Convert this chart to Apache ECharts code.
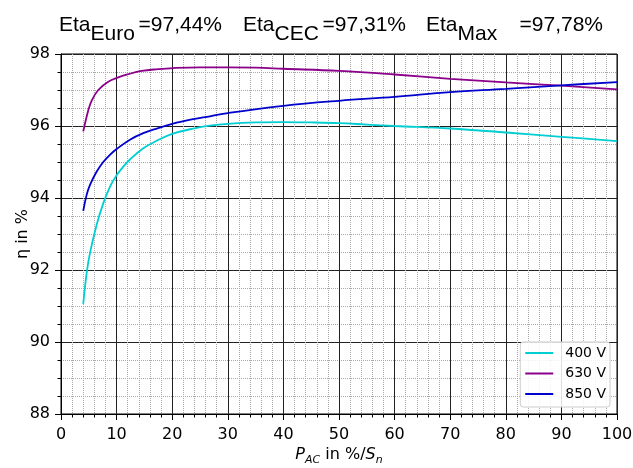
<!DOCTYPE html>
<html>
<head>
<meta charset="utf-8">
<script src="https://cdn.jsdelivr.net/npm/echarts@6/dist/echarts.min.js"></script>
<style>
html,body{margin:0;padding:0;background:#fff;}
#chart{width:633px;height:468px;}
</style>
</head>
<body>
<div id="chart"></div>
<script>
// Series data: [P_AC in %, efficiency in %]
const x400 = [4, 4.6, 5.2, 6.4, 7.6, 8.8, 10, 11.2, 12.4, 14.8, 17.2, 20, 23.8, 26.8, 30, 35, 40, 45, 50, 55, 60, 70, 80, 90, 100];
const y400 = [91.06, 91.9, 92.46, 93.25, 93.85, 94.31, 94.63, 94.87, 95.07, 95.38, 95.59, 95.78, 95.93, 96.01, 96.06, 96.10, 96.11, 96.10, 96.08, 96.04, 96.00, 95.93, 95.82, 95.70, 95.58];

const x630 = [4, 4.9, 5.5, 6.7, 8.5, 10.3, 12.1, 14.5, 17.5, 20.2, 25, 30, 35, 40, 50, 60, 70, 80, 90, 100];
const y630 = [95.85, 96.43, 96.70, 97.0, 97.23, 97.35, 97.44, 97.53, 97.58, 97.61, 97.63, 97.63, 97.62, 97.59, 97.53, 97.43, 97.31, 97.21, 97.12, 97.02];

const x850 = [4, 4.6, 5.2, 6.4, 7.6, 8.8, 10, 12.4, 14.8, 17.2, 20, 23.8, 26.8, 30, 40, 50, 60, 70, 80, 90, 100];
const y850 = [93.64, 94.08, 94.36, 94.73, 95.00, 95.20, 95.36, 95.62, 95.80, 95.93, 96.06, 96.19, 96.27, 96.36, 96.56, 96.70, 96.81, 96.94, 97.03, 97.13, 97.22];

const seriesNames = ['400 V', '630 V', '850 V'];
const seriesColors = ['#00CED1', '#8B008B', '#0000CD'];

const xMin = 0, xMax = 100, xStep = 10;
const yMin = 88, yMax = 98, yStep = 2;

function pairs(xs, ys) { return xs.map((x, i) => [x, ys[i]]); }
const seriesData = [pairs(x400, y400), pairs(x630, y630), pairs(x850, y850)];

const tickFont = 'DejaVu Sans';
const titleFont = 'Liberation Sans';
const chart = echarts.init(document.getElementById('chart'), null, {renderer: 'canvas'});

chart.setOption({
  animation: false,
  backgroundColor: '#fff',
  title: {
    text: '{m|Eta}{s|Euro}{m|=97,44%}{g1| }{m|Eta}{s|CEC}{m|=97,31%}{g2| }{m|Eta}{sm|Max}{g3| }{m|=97,78%}',
    left: 59,
    top: 15,
    padding: 0,
    textStyle: {
      fontWeight: 'normal',
      rich: {
        m: {fontFamily: titleFont, fontSize: 21, fontWeight: 'normal', color: '#000', lineHeight: 24, verticalAlign: 'top'},
        s: {fontFamily: titleFont, fontSize: 21, fontWeight: 'normal', color: '#000', lineHeight: 22, width: 48, verticalAlign: 'top', padding: [9, 0, 0, 0]},
        sm: {fontFamily: titleFont, fontSize: 21, fontWeight: 'normal', color: '#000', lineHeight: 22, width: 45, verticalAlign: 'top', padding: [9, 0, 0, 0]},
        g1: {fontFamily: titleFont, fontSize: 21, lineHeight: 24, width: 21, verticalAlign: 'top'},
        g2: {fontFamily: titleFont, fontSize: 21, lineHeight: 24, width: 20, verticalAlign: 'top'},
        g3: {fontFamily: titleFont, fontSize: 21, lineHeight: 24, width: 17, verticalAlign: 'top'}
      }
    }
  },
  grid: {
    left: 61, right: 16, top: 54, bottom: 54,
    outerBoundsMode: 'none',
    containLabel: false,
    show: true, borderColor: '#000', borderWidth: 1, backgroundColor: 'transparent'
  },
  legend: {
    data: seriesNames.map(n => ({name: n, icon: 'rect'})),
    orient: 'vertical',
    right: 23,
    bottom: 61,
    itemWidth: 28,
    itemHeight: 2,
    itemGap: 4.5,
    padding: [3, 4, 5, 5],
    backgroundColor: 'rgba(255,255,255,0.85)',
    borderColor: '#cccccc',
    borderWidth: 1,
    borderRadius: 3,
    textStyle: {fontFamily: tickFont, fontSize: 14, lineHeight: 16, color: '#000', padding: [0, 0, 0, 7]}
  },
  xAxis: {
    type: 'value',
    min: xMin, max: xMax, interval: xStep,
    name: '{i|P}{s|AC}{t| in %/}{i|S}{s|n}',
    nameLocation: 'middle',
    nameGap: 33,
    nameMoveOverlap: false,
    nameTextStyle: {
      rich: {
        i: {fontFamily: tickFont, fontSize: 16, fontStyle: 'italic', color: '#000', lineHeight: 18, verticalAlign: 'top'},
        t: {fontFamily: tickFont, fontSize: 16, color: '#000', lineHeight: 18, verticalAlign: 'top'},
        s: {fontFamily: tickFont, fontSize: 11, fontStyle: 'italic', color: '#000', lineHeight: 13, verticalAlign: 'top', padding: [8, 0, 0, 0]}
      }
    },
    axisLine: {show: true, lineStyle: {color: '#000', width: 1}},
    axisTick: {show: true, inside: false, length: 6, lineStyle: {color: '#000'}},
    minorTick: {show: true, splitNumber: 5, length: 3.5, lineStyle: {color: '#000'}},
    axisLabel: {fontFamily: tickFont, fontSize: 16, color: '#000', margin: 13},
    splitLine: {show: true, lineStyle: {color: '#222', width: 1}},
    minorSplitLine: {show: true, lineStyle: {color: '#a8a8a8', width: 1, type: 'dotted'}}
  },
  yAxis: {
    type: 'value',
    min: yMin, max: yMax, interval: yStep,
    name: 'η in %',
    nameLocation: 'middle',
    nameGap: 30,
    nameMoveOverlap: false,
    nameTextStyle: {fontFamily: tickFont, fontSize: 16, color: '#000'},
    axisLine: {show: true, lineStyle: {color: '#000', width: 1}},
    axisTick: {show: true, inside: false, length: 6, lineStyle: {color: '#000'}},
    minorTick: {show: true, splitNumber: 4, length: 3.5, lineStyle: {color: '#000'}},
    axisLabel: {fontFamily: tickFont, fontSize: 16, color: '#000', margin: 11},
    splitLine: {show: true, lineStyle: {color: '#222', width: 1}},
    minorSplitLine: {show: true, lineStyle: {color: '#a8a8a8', width: 1, type: 'dotted'}}
  },
  series: seriesNames.map((name, i) => ({
    name: name,
    type: 'line',
    data: seriesData[i],
    symbol: 'none',
    showSymbol: false,
    smooth: 0.4,
    color: seriesColors[i],
    itemStyle: {color: seriesColors[i]},
    lineStyle: {color: seriesColors[i], width: 1.8},
    z: 3
  }))
});
</script>
</body>
</html>
